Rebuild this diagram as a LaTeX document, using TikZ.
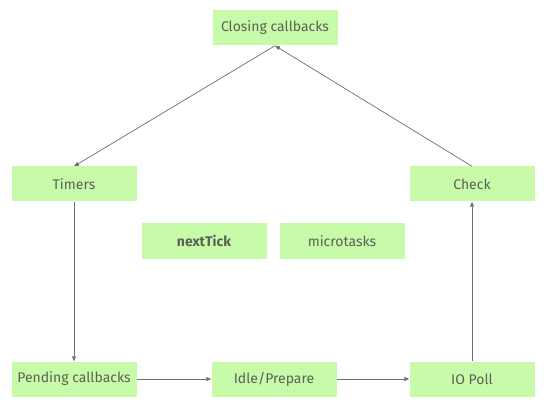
\documentclass[tikz,border=0pt]{standalone}
\usepackage{fontspec}
\setmainfont{Fira Sans}
\usetikzlibrary{arrows.meta}
\definecolor{boxfill}{HTML}{C8FBA9}
\definecolor{boxtext}{HTML}{5A6157}
\definecolor{linkgray}{HTML}{707070}
\begin{document}
\begin{tikzpicture}[x=1pt,y=-1pt,
  phase/.style={fill=boxfill, draw=none, minimum width=125pt, minimum height=35pt,
    inner sep=0pt, text=boxtext, font=\fontsize{14}{16}\selectfont},
  link/.style={draw=linkgray, line width=0.7pt,
    -{Triangle[length=5pt,width=4pt]}}]
  \useasboundingbox[fill=white] (0,0) rectangle (546,406);
  % event loop phases
  \node[phase] (closing) at (275,28)  {Closing callbacks};
  \node[phase] (timers)  at (74,184)  {Timers};
  \node[phase] (check)   at (472,184) {Check};
  \node[phase] (pending) at (74,379)  {Pending callbacks};
  \node[phase] (idle)    at (274,379) {Idle/Prepare};
  \node[phase] (poll)    at (472,379) {IO Poll};
  % queues processed between phases
  \node[phase, font=\fontsize{14}{16}\selectfont\bfseries] (tick) at (204,241) {nextTick};
  \node[phase] (micro)   at (342,241) {microtasks};
  % transitions
  \draw[link] (closing.south) -- (timers.north);
  \draw[link] (timers.south) -- (pending.north);
  \draw[link] (pending.east) -- (idle.west);
  \draw[link] (idle.east) -- (poll.west);
  \draw[link] (poll.north) -- (check.south);
  \draw[link] (check.north) -- (closing.south);
\end{tikzpicture}
\end{document}
